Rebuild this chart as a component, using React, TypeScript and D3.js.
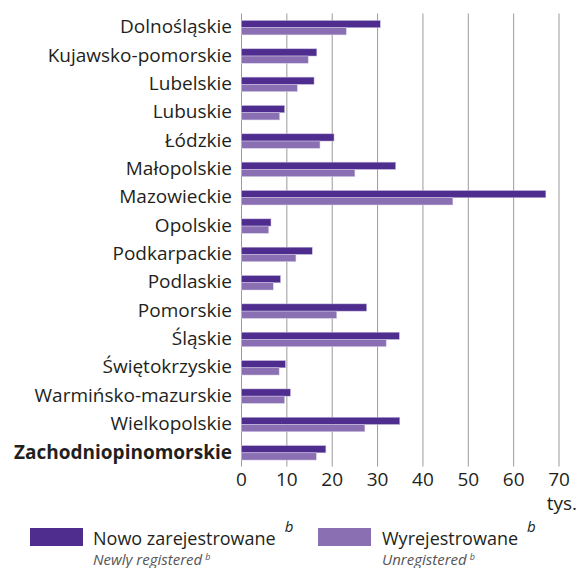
import React from "react";
import * as d3 from "d3";

const regions = [
  "Dolnośląskie", "Kujawsko-pomorskie", "Lubelskie", "Lubuskie", "Łódzkie",
  "Małopolskie", "Mazowieckie", "Opolskie", "Podkarpackie", "Podlaskie",
  "Pomorskie", "Śląskie", "Świętokrzyskie", "Warmińsko-mazurskie",
  "Wielkopolskie", "Zachodniopinomorskie",
];
const registered = [30.6, 16.6, 16.0, 9.5, 20.4, 34.0, 67.1, 6.5, 15.6, 8.6, 27.6, 34.8, 9.7, 10.8, 34.9, 18.6];
const unregistered = [23.1, 14.7, 12.3, 8.4, 17.3, 25.0, 46.6, 6.0, 12.0, 7.0, 21.0, 31.9, 8.3, 9.5, 27.2, 16.5];
const xTicks = [0, 10, 20, 30, 40, 50, 60, 70];

const W = 578, H = 568;
const DARK = "#4f2d8e";
const LIGHT = "#8a70b3";
const FONT = "'Open Sans', sans-serif";

export default function App() {
  const x = d3.scaleLinear().domain([0, 70]).range([241.5, 559]);
  const y = d3.scaleBand<string>().domain(regions).range([13.5, 467]).paddingInner(0.49).paddingOuter(0.245);
  const half = y.bandwidth() / 2;

  return (
    <svg width={W} height={H} style={{ position: "absolute", left: 0, top: 0, background: "#fff" }} fontFamily={FONT}>
      <g stroke="#9a9a9a" strokeWidth={1}>
        {xTicks.map((t) => (
          <line key={t} x1={x(t)} x2={x(t)} y1={13.5} y2={466.5} />
        ))}
      </g>
      {regions.map((r, i) => {
        const y0 = y(r) ?? 0;
        return (
          <g key={r}>
            <rect x={x(0)} y={y0} width={x(registered[i]) - x(0)} height={half} fill={DARK} stroke="#c8bddf" strokeWidth={0.5} />
            <rect x={x(0)} y={y0 + half} width={x(unregistered[i]) - x(0)} height={half} fill={LIGHT} stroke="#d6cde8" strokeWidth={0.5} />
            <text x={232} y={y0 + half} dy="0.3em" textAnchor="end" fontSize={19} fill="#231f20"
              fontWeight={i === regions.length - 1 ? 700 : 400}>{r}</text>
          </g>
        );
      })}
      <g fontSize={19} fill="#231f20" textAnchor="middle">
        {xTicks.map((t) => (
          <text key={t} x={x(t)} y={486}>{t}</text>
        ))}
      </g>
      <text x={577} y={510} fontSize={19} fill="#231f20" textAnchor="end">tys.</text>

      <rect x={30} y={528} width={53} height={18} fill={DARK} />
      <text x={93} y={545} fontSize={18} fill="#231f20">Nowo zarejestrowane
        <tspan dx={9} dy={-13} fontSize={15} fontStyle="italic">b</tspan>
      </text>
      <text x={93} y={565} fontSize={15} fill="#555" fontStyle="italic">Newly registered
        <tspan dx={3} dy={-5} fontSize={9}>b</tspan>
      </text>

      <rect x={318} y={528} width={53} height={18} fill={LIGHT} />
      <text x={382} y={545} fontSize={18} fill="#231f20">Wyrejestrowane
        <tspan dx={9} dy={-13} fontSize={15} fontStyle="italic">b</tspan>
      </text>
      <text x={382} y={565} fontSize={15} fill="#555" fontStyle="italic">Unregistered
        <tspan dx={3} dy={-5} fontSize={9}>b</tspan>
      </text>
    </svg>
  );
}
